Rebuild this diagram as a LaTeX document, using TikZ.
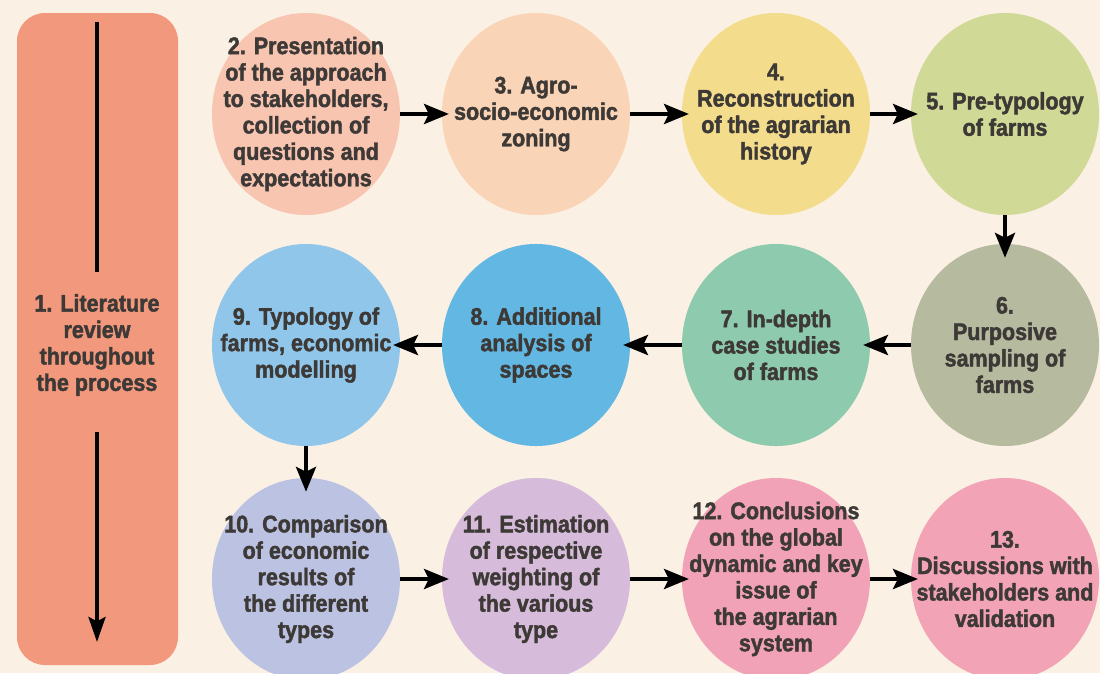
\documentclass[tikz,border=0pt]{standalone}
\usepackage{fontspec}
\usepackage{xcolor}
\usepackage{tikz}
\usetikzlibrary{shapes.geometric,arrows.meta}

\newfontfamily\stepfont{Liberation Sans Bold}[FakeStretch=0.9,FakeBold=1.8]

\definecolor{bgcream}{HTML}{FAF0E4}
\definecolor{barsalmon}{HTML}{F2997D}
\definecolor{txtgrey}{HTML}{3D3936}
\definecolor{ctwo}{HTML}{F8C5B1}
\definecolor{cthree}{HTML}{FAD4B6}
\definecolor{cfour}{HTML}{F3DC8B}
\definecolor{cfive}{HTML}{D0D996}
\definecolor{csix}{HTML}{B6BA9E}
\definecolor{cseven}{HTML}{8DCAAE}
\definecolor{ceight}{HTML}{62B7E3}
\definecolor{cnine}{HTML}{8FC6EA}
\definecolor{cten}{HTML}{BCC2E2}
\definecolor{celeven}{HTML}{D6BBDA}
\definecolor{ctwelve}{HTML}{F2A2B6}
\definecolor{cthirteen}{HTML}{F2A3B5}

\tikzset{
  stepcirc/.style={ellipse, minimum width=4.7cm, minimum height=5.05cm, inner sep=0pt},
  steptext/.style={font=\stepfont\fontsize{17}{18.8}\selectfont, text=txtgrey, align=center, inner sep=0pt},
  flow/.style={line width=0.1cm, -{Stealth[length=0.62cm, width=0.5cm, inset=0.12cm]}, shorten >=-0.18cm},
  barflow/.style={line width=0.1cm, -{Stealth[length=0.62cm, width=0.42cm, inset=0.1cm]}}
}

\begin{document}
\begin{tikzpicture}[x=0.025cm, y=-0.025cm]
     \useasboundingbox (0,0) rectangle (1100,673);
     \fill[bgcream] (0,0) rectangle (1100,673);

     % left bar: literature review
     \fill[barsalmon, rounded corners=0.7cm] (17,13) rectangle (178,665);
     \node[steptext] (s1) at (97,345) {1. Literature\\review\\throughout\\the process};
     \coordinate (bartop) at (97,22);
     \coordinate (barmid) at (97,272);
     \coordinate (barlow) at (97,432);
     \coordinate (barend) at (97,642);
     \draw[line width=0.1cm] (bartop) -- (barmid);
     \draw[barflow] (barlow) -- (barend);

     % first row
     \node[stepcirc, fill=ctwo] (e2) at (306,114) {};
     \node[stepcirc, fill=cthree] (e3) at (536,114) {};
     \node[stepcirc, fill=cfour] (e4) at (776,114) {};
     \node[stepcirc, fill=cfive] (e5) at (1005,114) {};
     \node[steptext] (s2) at (e2) {2. Presentation\\of the approach\\to stakeholders,\\collection of\\questions and\\expectations};
     \node[steptext] (s3) at (e3) {3. Agro-\\socio-economic\\zoning};
     \node[steptext] (s4) at (e4) {4.\\Reconstruction\\of the agrarian\\history};
     \node[steptext] (s5) at (e5) {5. Pre-typology\\of farms};

     % second row
     \node[stepcirc, fill=csix] (e6) at (1005,345) {};
     \node[stepcirc, fill=cseven] (e7) at (776,345) {};
     \node[stepcirc, fill=ceight] (e8) at (536,345) {};
     \node[stepcirc, fill=cnine] (e9) at (306,345) {};
     \node[steptext] (s6) at (e6) {6.\\Purposive\\sampling of\\farms};
     \node[steptext] (s7) at (e7) {7. In-depth\\case studies\\of farms};
     \node[steptext] (s8) at (e8) {8. Additional\\analysis of\\spaces};
     \node[steptext] (s9) at (e9) {9. Typology of\\farms, economic\\modelling};

     % third row
     \node[stepcirc, fill=cten] (e10) at (306,579) {};
     \node[stepcirc, fill=celeven] (e11) at (536,579) {};
     \node[stepcirc, fill=ctwelve] (e12) at (776,579) {};
     \node[stepcirc, fill=cthirteen] (e13) at (1005,579) {};
     \node[steptext] (s10) at (e10) {10. Comparison\\of economic\\results of\\the different\\types};
     \node[steptext] (s11) at (e11) {11. Estimation\\of respective\\weighting of\\the various\\type};
     \node[steptext] (s12) at (e12) {12. Conclusions\\on the global\\dynamic and key\\issue of\\the agrarian\\system};
     \node[steptext] (s13) at (e13) {13.\\Discussions with\\stakeholders and\\validation};

     % arrows
     \draw[flow] (e2.east) -- (e3.west);
     \draw[flow] (e3.east) -- (e4.west);
     \draw[flow] (e4.east) -- (e5.west);
     \draw[flow, shorten >=-0.35cm] (e5.south) -- (e6.north);
     \draw[flow] (e6.west) -- (e7.east);
     \draw[flow] (e7.west) -- (e8.east);
     \draw[flow] (e8.west) -- (e9.east);
     \draw[flow, shorten >=-0.35cm] (e9.south) -- (e10.north);
     \draw[flow] (e10.east) -- (e11.west);
     \draw[flow] (e11.east) -- (e12.west);
     \draw[flow] (e12.east) -- (e13.west);
\end{tikzpicture}
\end{document}
